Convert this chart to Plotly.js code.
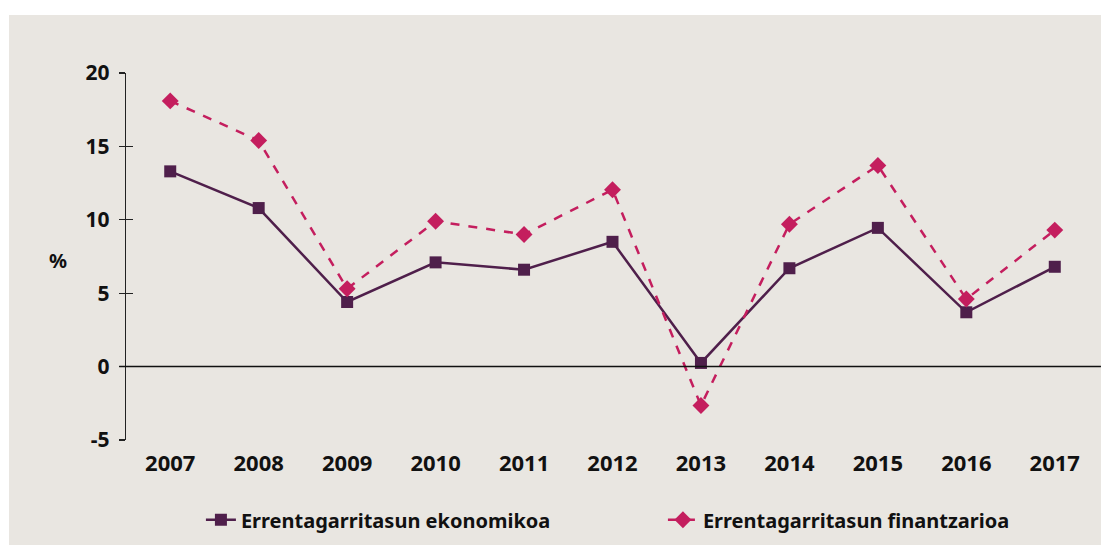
<!DOCTYPE html>
<html>
<head>
<meta charset="utf-8">
<script src="https://cdn.plot.ly/plotly-3.0.1.min.js"></script>
<style>
  html, body { margin: 0; padding: 0; background: #ffffff; }
  #chart { position: absolute; left: 9px; top: 15px; width: 1092px; height: 530px; }
</style>
</head>
<body>
<div id="chart"></div>
<script>
const years = ["2007","2008","2009","2010","2011","2012","2013","2014","2015","2016","2017"];
const ekonomikoa = [13.3, 10.8, 4.4, 7.1, 6.6, 8.5, 0.25, 6.7, 9.45, 3.7, 6.8];
const finantzarioa = [18.1, 15.4, 5.3, 9.9, 9.0, 12.05, -2.65, 9.7, 13.7, 4.6, 9.3];
const yTicks = [-5, 0, 5, 10, 15, 20];
const yTickText = ["-5", "0", "5", "10", "15", "20"];
const seriesNames = ["Errentagarritasun ekonomikoa", "Errentagarritasun finantzarioa"];

const purple = "#4F1F4B";
const magenta = "#C41E5E";
const bg = "#E9E6E1";
const fontFam = "Noto Sans, Open Sans, sans-serif";

const traces = [
  {
    x: years, y: ekonomikoa, name: seriesNames[0], type: "scatter", mode: "lines+markers",
    line: {color: purple, width: 2.5},
    marker: {symbol: "square", size: 12, color: purple}
  },
  {
    x: years, y: finantzarioa, name: seriesNames[1], type: "scatter", mode: "lines+markers",
    line: {color: magenta, width: 2.5, dash: "dash"},
    marker: {symbol: "diamond", size: 13, color: magenta}
  },
  {
    x: years, y: ekonomikoa, yaxis: "y2", type: "scatter", mode: "none",
    showlegend: false, hoverinfo: "skip"
  }
];

const layout = {
  paper_bgcolor: bg,
  plot_bgcolor: bg,
  margin: {l: 117, r: 2, t: 58, b: 105, autoexpand: false},
  font: {family: fontFam, color: "#111111", size: 20},
  showlegend: true,
  xaxis: {
    type: "category",
    range: [-0.5, 10.5],
    showgrid: false, zeroline: false, showline: false,
    ticks: "",
    tickfont: {family: fontFam, size: 22, weight: "bold", color: "#111"},
    ticklabelstandoff: 8
  },
  yaxis: {
    range: [-5, 20],
    tickvals: yTicks,
    ticktext: yTickText,
    showgrid: false, zeroline: false,
    showline: true, linecolor: "#222", linewidth: 1.3,
    ticks: "outside", ticklen: 6, tickcolor: "#222", tickwidth: 1.3,
    tickfont: {family: fontFam, size: 21, weight: "bold", color: "#111"},
    ticklabelstandoff: 5
  },
  yaxis2: {
    overlaying: "y",
    range: [-5, 20],
    tickvals: yTicks,
    showgrid: false, zeroline: false, showline: false,
    ticks: "inside", ticklen: 7, tickcolor: "#222", tickwidth: 1.3,
    showticklabels: false,
    side: "left"
  },
  shapes: [
    {type: "line", xref: "paper", yref: "y", x0: -0.007, x1: 1.002, y0: 0, y1: 0,
     line: {color: "#111", width: 1.5}}
  ],
  annotations: [
    {text: "%", xref: "paper", yref: "paper", x: -0.0696, y: 0.49, showarrow: false,
     xanchor: "center", yanchor: "middle",
     font: {family: fontFam, size: 20, weight: "bold", color: "#111"}}
  ],
  legend: {
    orientation: "h",
    x: 0.077, y: -0.164, xanchor: "left", yanchor: "top",
    bgcolor: "rgba(0,0,0,0)",
    font: {family: fontFam, size: 20, weight: "bold", color: "#111"},
    entrywidth: 417,
    entrywidthmode: "pixels"
  }
};

Plotly.newPlot("chart", traces, layout, {displayModeBar: false, staticPlot: true});
</script>
</body>
</html>
